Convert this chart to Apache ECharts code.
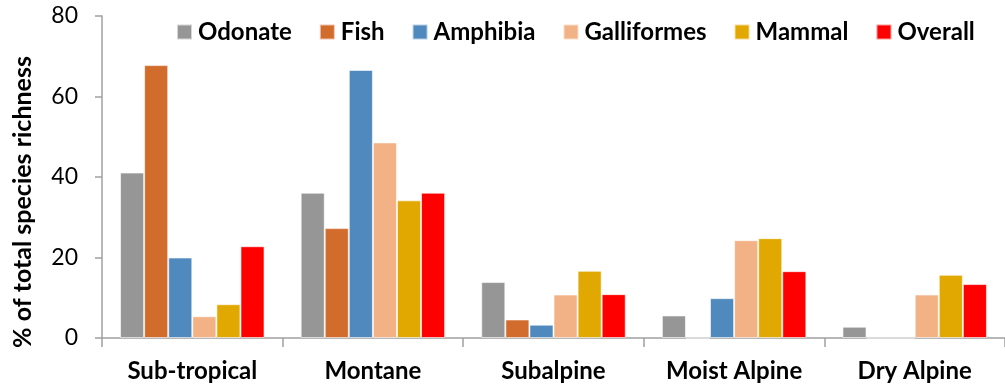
<!DOCTYPE html>
<html>
<head>
<meta charset="utf-8">
<script src="https://cdn.jsdelivr.net/npm/echarts@6/dist/echarts.min.js"></script>
<style>
  html, body { margin: 0; padding: 0; background: #fff; }
  #chart { width: 1005px; height: 389px; }
</style>
</head>
<body>
<div id="chart"></div>
<script>
const categories = ['Sub-tropical', 'Montane', 'Subalpine', 'Moist Alpine', 'Dry Alpine'];
const yTicks = [0, 20, 40, 60, 80];

const odonate     = [41.1, 36.1, 13.9, 5.6, 2.8];
const fish        = [67.8, 27.3, 4.6, 0, 0];
const amphibia    = [20.0, 66.6, 3.3, 9.9, 0];
const galliformes = [5.4, 48.6, 10.8, 24.3, 10.8];
const mammal      = [8.4, 34.2, 16.7, 24.8, 15.7];
const overall     = [22.8, 36.1, 10.9, 16.6, 13.4];

const seriesNames = ['Odonate', 'Fish', 'Amphibia', 'Galliformes', 'Mammal', 'Overall'];
const seriesData = [odonate, fish, amphibia, galliformes, mammal, overall];
const colors = ['#969696', '#D26C2C', '#4F89BD', '#F3B186', '#E0A800', '#FF0000'];

const font = 'Lato, "Open Sans", sans-serif';
const chart = echarts.init(document.getElementById('chart'));

const option = {
  animation: false,
  color: colors,
  grid: { left: 102, right: -9, top: 16, bottom: 51, containLabel: false },
  legend: {
    left: 171,
    top: 15,
    itemWidth: 15,
    itemHeight: 15,
    itemGap: 27,
    icon: 'rect',
    textStyle: { fontFamily: font, fontWeight: 'bold', fontSize: 24, color: '#000', padding: [0, 0, 0, 1] },
    data: seriesNames
  },
  // y title drawn as text so it can sit a little lower than the axis centre, like the original
  graphic: [{
    type: 'text',
    x: 23,
    y: 202,
    rotation: Math.PI / 2,
    style: {
      text: '% of total species richness',
      fontFamily: font,
      fontWeight: 'bold',
      fontSize: 25,
      fill: '#000',
      align: 'center',
      verticalAlign: 'middle'
    }
  }],
  xAxis: {
    type: 'category',
    data: categories,
    axisLine: { lineStyle: { color: '#A0A0A0', width: 1.5 } },
    axisTick: { show: true, interval: 0, length: 9, lineStyle: { color: '#A0A0A0', width: 1.5 } },
    axisLabel: { interval: 0, fontFamily: font, fontWeight: 'bold', fontSize: 24, color: '#000', margin: 21 }
  },
  yAxis: {
    type: 'value',
    min: yTicks[0],
    max: yTicks[yTicks.length - 1],
    interval: 20,
    axisLine: { show: true, lineStyle: { color: '#A0A0A0', width: 1.5 } },
    axisTick: { show: true, length: 7, lineStyle: { color: '#A0A0A0', width: 1.5 } },
    axisLabel: { fontFamily: font, fontSize: 23, color: '#000', margin: 24 },
    splitLine: { show: false }
  },
  series: seriesNames.map((name, i) => ({
    name: name,
    type: 'bar',
    data: seriesData[i],
    barGap: '0%',
    barCategoryGap: '20%',
    itemStyle: { color: colors[i], borderColor: 'rgba(255,255,255,0.6)', borderWidth: 1 }
  }))
};

chart.setOption(option);
</script>
</body>
</html>
